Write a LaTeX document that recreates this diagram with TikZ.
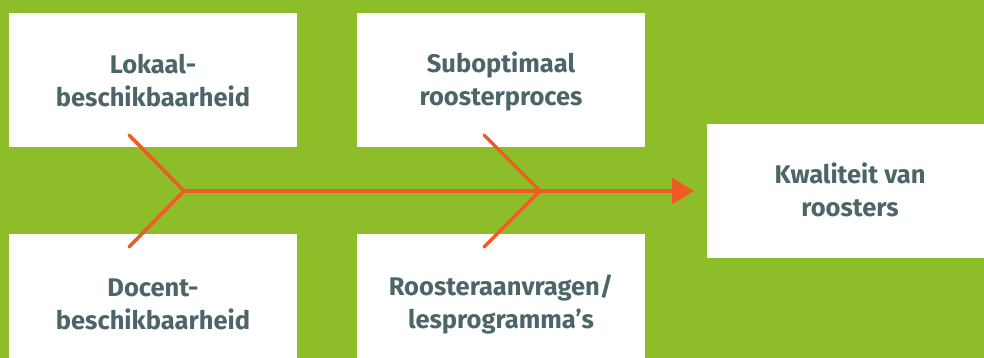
\documentclass[tikz,border=0pt]{standalone}
\usepackage{fontspec}
\setmainfont{Fira Sans}
\usetikzlibrary{arrows.meta}
\definecolor{leaf}{HTML}{8DBE2A}
\definecolor{fishline}{HTML}{F15A24}
\definecolor{slate}{HTML}{4B6569}
\tikzset{
  cause/.style={fill=white, draw=none, text=slate, align=center,
    font=\fontsize{25.5}{33}\selectfont\bfseries, inner sep=0pt},
  bone/.style={draw=fishline, line width=3.5pt, line cap=round, line join=round},
}
\begin{document}
\begin{tikzpicture}[x=1pt,y=-1pt]
  % background
  \fill[leaf] (0,0) rectangle (984,358);
  \useasboundingbox (0,0) rectangle (984,358);
  % cause boxes
  \fill[white] (9,13) rectangle (297,147);
  \fill[white] (357,13) rectangle (645,147);
  \fill[white] (9,234) rectangle (297,358);
  \fill[white] (357,234) rectangle (645,358);
  \fill[white] (707,124) rectangle (984,258);
  \node[cause] (lokaal) at (153,81) {Lokaal-\\beschikbaarheid};
  \node[cause] (subopt) at (501,81) {Suboptimaal\\roosterproces};
  \node[cause] (docent) at (153,304) {Docent-\\beschikbaarheid};
  \node[cause] (aanvr) at (501,304) {Roosteraanvragen/\\lesprogramma’s};
  \node[cause] (kwal) at (850,190) {Kwaliteit van\\roosters};
  % fishbone
  \coordinate (j1) at (184,191);
  \coordinate (j2) at (540,191);
  \coordinate (tip) at (694,191);
  \coordinate (a1) at (129,135);
  \coordinate (b1) at (129,247);
  \coordinate (a2) at (484,135);
  \coordinate (b2) at (484,247);
  \draw[bone] (a1) -- (j1) -- (b1);
  \draw[bone] (a2) -- (j2) -- (b2);
  \draw[bone, -{Triangle[length=22pt,width=26pt]}] (j1) -- (tip);
\end{tikzpicture}
\end{document}
